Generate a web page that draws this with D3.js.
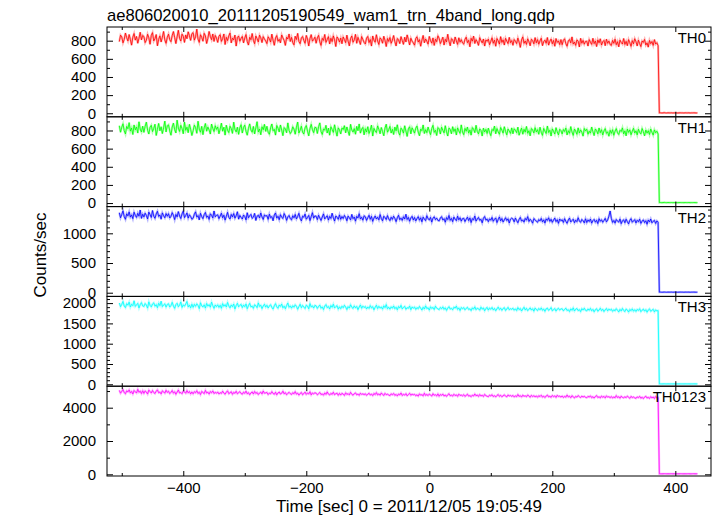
<!DOCTYPE html>
<html><head><meta charset="utf-8">
<script src="https://cdn.jsdelivr.net/npm/d3@7"></script>
<style>body{margin:0;background:#fff} text{font-family:"Liberation Sans",Arial,Helvetica,sans-serif}</style>
</head><body><svg id="c" width="717" height="516"></svg>
<script>
const titleText = "ae806020010_20111205190549_wam1_trn_4band_long.qdp";
const xLabelText = "Time [sec] 0 = 2011/12/05 19:05:49";
const yLabelText = "Counts/sec";
const bandNames = ["TH0", "TH1", "TH2", "TH3", "TH0123"];
const bandColors = ["#ff0000", "#00ff00", "#0000ff", "#00ffff", "#ff00ff"];
const xTicks = [-400, -200, 0, 200, 400];
const xMinorTicks = [-500, -300, -100, 100, 300];
const yTicks = [[0, 200, 400, 600, 800], [0, 200, 400, 600, 800], [0, 500, 1000], [0, 500, 1000, 1500, 2000], [0, 2000, 4000]];
const yMinorStep = [100, 100, 100, 100, 1000];
// 2-second bins, t = -504 ... 436
const times = d3.range(-504, 438, 2);

const th0 = [
790,861,842,776,815,884,833,797,868,812,751,839,879,806,847,772,826,893,809,858,
845,779,806,871,832,761,858,889,797,823,868,744,815,853,786,839,902,808,771,836,
872,811,789,856,901,834,768,843,915,826,797,872,849,781,864,822,898,855,803,877,
889,806,842,928,818,781,866,837,794,881,853,769,825,902,847,811,874,792,858,829,
781,849,866,792,823,874,758,837,801,853,884,776,828,809,862,741,835,851,794,826,
847,776,829,868,791,752,838,811,879,804,767,852,823,786,861,832,779,845,818,797,
768,843,821,785,872,806,749,829,857,794,815,776,863,831,802,748,838,819,874,791,
836,779,754,849,813,881,792,767,829,846,803,771,858,818,742,824,867,795,813,839,
772,831,859,787,748,826,803,869,781,812,845,764,827,790,853,809,736,841,822,785,
829,767,841,812,778,861,795,743,824,852,783,809,870,771,837,799,758,846,813,781,
764,828,847,779,813,741,852,806,783,866,797,758,831,815,772,849,803,736,824,792,
835,771,806,857,789,742,823,811,768,845,802,759,838,786,864,812,753,827,795,776,
751,824,843,785,812,739,806,858,777,819,794,762,847,801,773,831,748,816,789,854,
826,768,801,839,752,815,786,871,795,744,823,809,767,841,797,759,832,784,812,775,
762,815,839,778,804,733,826,795,851,769,812,787,748,834,801,776,819,741,808,793,
817,756,793,832,771,806,739,824,798,762,845,781,809,752,826,795,768,837,779,801,
749,813,794,768,829,785,726,808,842,771,797,759,821,788,744,816,802,765,834,777,
812,761,798,827,745,789,806,772,835,751,794,818,766,803,739,824,781,798,757,812,
756,804,821,768,739,797,813,776,842,763,785,748,809,794,731,826,772,803,761,792,
794,741,812,783,759,826,768,797,735,809,776,821,752,788,803,745,817,771,796,758,
748,803,771,817,756,789,732,806,781,763,824,759,793,745,812,777,738,801,766,822,
789,742,806,768,735,797,781,814,752,776,729,803,767,791,748,812,763,778,745,
4,5,3,4,6,4,3,5,4,4,5,3,4,5,4,3,4,5,4,4,3,5,4,4,5,3,4,4,5,4,3,4];

const th1 = [
853,781,836,874,798,762,845,819,887,793,828,756,861,807,839,772,896,815,784,848,
779,846,892,803,761,834,857,788,823,869,745,812,878,797,841,766,829,903,784,851,
862,795,748,838,881,809,773,914,826,789,857,821,764,893,802,837,776,868,813,745,
797,858,833,769,902,815,781,846,754,829,877,792,838,806,761,871,824,788,853,812,
839,764,817,881,792,836,749,858,803,777,847,821,768,892,811,784,836,757,829,864,
772,834,859,791,748,823,873,806,781,845,762,829,897,784,817,753,841,808,868,790,
846,781,758,829,872,797,813,749,855,826,784,861,805,743,832,818,775,884,801,766,
788,841,816,759,836,893,772,804,847,781,762,829,855,793,741,822,868,809,776,835,
831,767,842,884,789,756,818,803,857,772,826,748,841,812,779,863,795,738,829,806,
762,827,811,853,774,839,791,745,868,806,783,821,759,846,798,872,771,815,834,752,
819,783,842,767,806,859,739,824,795,777,851,812,764,833,788,742,827,869,781,808,
845,772,813,756,838,796,863,781,749,826,807,771,852,794,735,818,841,763,829,802,
771,826,849,783,742,815,798,861,767,809,776,838,792,754,821,857,779,803,745,832,
818,761,836,802,774,853,786,739,827,811,764,842,789,818,751,829,796,768,862,783,
754,823,792,838,771,806,749,832,815,776,857,789,763,818,801,739,826,784,812,767,
826,778,743,812,797,849,764,821,786,758,833,804,771,842,789,752,816,795,768,829,
764,819,802,776,837,748,791,826,759,813,782,845,769,798,741,822,806,773,831,784,
809,758,836,781,746,823,794,767,849,778,803,739,818,792,761,831,785,752,814,799,
762,811,789,827,751,798,769,843,784,746,816,793,758,829,772,807,781,738,822,796,
814,759,792,771,838,787,744,816,799,763,828,776,809,751,795,821,768,786,737,803,
768,809,747,792,821,774,756,803,788,829,762,796,741,815,779,807,753,791,824,772,
796,752,814,779,763,822,787,741,805,771,798,756,816,781,749,807,775,792,761,
5,6,4,5,7,5,4,6,5,5,6,4,5,6,5,4,5,6,5,5,4,6,5,5,6,4,5,5,6,5,4,5];

const th2 = [
1348,1262,1317,1379,1281,1236,1329,1294,1361,1273,1310,1247,1356,1302,1268,1337,1289,1392,1251,1321,
1276,1339,1301,1242,1358,1315,1267,1384,1290,1253,1326,1371,1284,1309,1238,1345,1297,1262,1333,1288,
1331,1258,1286,1349,1303,1231,1318,1277,1366,1292,1249,1327,1374,1265,1301,1343,1256,1312,1284,1237,
1254,1321,1362,1273,1299,1226,1337,1281,1246,1315,1352,1268,1293,1234,1329,1306,1259,1376,1278,1302,
1312,1247,1291,1339,1262,1305,1223,1286,1354,1270,1241,1318,1277,1333,1255,1296,1364,1238,1301,1269,
1241,1308,1284,1226,1347,1263,1295,1319,1252,1271,1336,1217,1288,1305,1259,1342,1276,1233,1311,1289,
1299,1235,1322,1264,1281,1211,1308,1343,1256,1287,1229,1314,1270,1251,1333,1292,1218,1276,1301,1247,
1227,1296,1262,1318,1243,1284,1337,1251,1209,1289,1272,1325,1238,1266,1302,1214,1281,1348,1255,1293,
1288,1231,1304,1259,1216,1275,1327,1242,1269,1296,1223,1284,1251,1339,1262,1207,1292,1271,1236,1311,
1236,1283,1249,1301,1268,1212,1290,1262,1227,1319,1247,1274,1205,1286,1259,1331,1243,1270,1221,1295,
1279,1218,1263,1304,1236,1285,1201,1257,1292,1241,1270,1227,1316,1249,1211,1288,1265,1232,1299,1244,
1214,1271,1235,1288,1252,1197,1263,1304,1229,1256,1218,1279,1241,1321,1233,1268,1203,1259,1286,1226,
1267,1209,1248,1281,1221,1262,1194,1273,1238,1214,1297,1245,1226,1268,1189,1254,1279,1231,1256,1217,
1209,1258,1281,1224,1246,1187,1265,1232,1301,1219,1251,1196,1274,1238,1213,1289,1227,1262,1205,1248,
1253,1198,1237,1272,1214,1259,1182,1246,1228,1291,1206,1241,1267,1219,1236,1177,1254,1283,1222,1240,
1196,1244,1221,1268,1203,1237,1259,1181,1232,1276,1210,1249,1191,1227,1263,1215,1244,1174,1238,1256,
1241,1193,1257,1216,1178,1234,1268,1205,1226,1189,1251,1222,1282,1199,1237,1212,1171,1248,1229,1203,
1186,1232,1209,1251,1194,1227,1173,1243,1218,1262,1201,1236,1185,1224,1256,1197,1229,1168,1241,1212,
1228,1183,1247,1202,1168,1224,1257,1191,1215,1238,1179,1221,1196,1263,1207,1185,1234,1211,1176,1245,
1182,1226,1199,1241,1171,1213,1235,1188,1219,1164,1246,1203,1229,1186,1217,1252,1193,1224,1289,1376,
1251,1184,1216,1172,1233,1205,1189,1242,1163,1211,1227,1178,1238,1196,1159,1219,1247,1187,1208,1231,
1174,1219,1196,1238,1168,1205,1227,1181,1212,1153,1224,1192,1241,1177,1203,1218,1166,1209,1186,
9,10,8,9,11,9,8,10,9,9,10,8,9,10,9,8,9,10,9,9,8,10,9,9,10,8,9,9,10,9,8,9];

const th3 = [
2003,1912,1968,2041,1927,1889,1986,1949,2024,1903,1971,1936,2058,1918,1957,1994,1879,1962,2012,1931,
1917,1989,1952,1876,2031,1943,1908,1978,2006,1925,1961,1887,1996,1938,2047,1914,1955,1982,1901,1967,
1985,1903,1939,2019,1928,1871,1964,1996,1911,1947,2028,1893,1958,1923,1977,2041,1906,1949,1884,1972,
1896,1968,1921,1983,1942,1864,2009,1932,1905,1957,1877,1991,1926,1962,1899,2024,1938,1871,1953,1914,
1958,1894,1946,1872,1987,1923,1961,1905,2016,1931,1883,1954,1912,1977,1856,1939,1996,1908,1944,1968,
1889,1951,1913,1978,1862,1937,1994,1906,1925,1871,1959,1934,1887,2005,1918,1946,1865,1929,1971,1901,
1947,1879,1928,1961,1895,1853,1934,1987,1908,1872,1953,1919,1976,1884,1925,1862,1941,2001,1897,1931,
1876,1935,1899,1958,1921,1848,1913,1972,1886,1941,1903,1867,1949,1927,1859,1988,1905,1931,1878,1944,
1931,1869,1918,1951,1874,1906,1842,1927,1963,1889,1915,1856,1939,1898,1972,1881,1912,1937,1851,1908,
1864,1923,1887,1945,1905,1841,1912,1878,1959,1897,1869,1931,1884,1917,1838,1903,1954,1872,1925,1891,
1916,1857,1903,1869,1938,1882,1911,1834,1896,1947,1866,1921,1877,1904,1851,1932,1889,1963,1862,1898,
1851,1908,1874,1929,1862,1897,1836,1915,1881,1944,1858,1893,1919,1846,1887,1871,1926,1838,1903,1876,
1902,1845,1889,1862,1918,1873,1829,1897,1854,1931,1866,1884,1827,1909,1868,1893,1841,1922,1875,1857,
1839,1891,1862,1907,1848,1883,1821,1875,1912,1853,1869,1836,1898,1877,1924,1845,1881,1817,1889,1864,
1887,1834,1871,1896,1842,1859,1815,1882,1851,1908,1838,1874,1861,1825,1899,1853,1879,1811,1867,1893,
1828,1879,1849,1892,1834,1867,1812,1858,1901,1841,1873,1823,1866,1888,1819,1854,1896,1837,1862,1846,
1873,1826,1858,1817,1889,1841,1866,1805,1853,1897,1832,1869,1814,1848,1882,1829,1861,1801,1876,1843,
1818,1867,1835,1881,1824,1852,1798,1859,1876,1821,1847,1889,1812,1838,1865,1804,1851,1872,1829,1856,
1861,1811,1844,1875,1819,1836,1793,1857,1824,1883,1806,1848,1867,1815,1839,1791,1862,1831,1873,1822,
1807,1856,1823,1869,1812,1844,1786,1838,1861,1799,1828,1874,1815,1847,1792,1835,1866,1809,1851,1826,
1849,1798,1836,1811,1862,1824,1783,1845,1806,1868,1819,1792,1854,1831,1779,1843,1813,1858,1801,1837,
1795,1843,1818,1861,1789,1826,1852,1803,1837,1776,1829,1857,1798,1822,1848,1784,1833,1809,1815,
10,11,9,10,12,10,9,11,10,10,11,9,10,11,10,9,10,11,10,10,9,11,10,10,11,9,10,10,11,10,9,10];

const th0123 = [
5043,4871,4982,5089,4907,4836,5012,4948,5067,4889,4974,4823,5031,4956,4881,5102,4929,4993,4852,5018,
4862,5007,4943,4819,5058,4967,4884,5032,4911,4853,4989,5071,4896,4938,4827,5014,4952,4873,5046,4921,
4987,4848,4926,5035,4871,4958,4803,4939,5062,4885,4914,4839,5001,4952,4867,5029,4893,4971,4826,4944,
4833,4962,4897,5021,4858,4929,4791,4976,4912,4846,5043,4881,4934,4817,4968,4899,5009,4852,4923,4868,
4945,4824,4903,4858,4992,4876,4811,4931,5012,4842,4897,4959,4803,4918,4867,4986,4839,4904,4961,4851,
4812,4931,4864,4995,4838,4902,4779,4886,4947,4823,4973,4856,4913,4792,4879,4938,4826,5004,4869,4891,
4917,4791,4876,4832,4963,4854,4808,4929,4773,4885,4941,4819,4867,4992,4836,4903,4781,4858,4926,4843,
4794,4901,4839,4968,4815,4872,4757,4853,4912,4781,4847,4936,4803,4879,4826,4958,4769,4884,4831,4897,
4872,4776,4843,4911,4794,4829,4751,4886,4802,4948,4817,4763,4858,4801,4927,4784,4839,4872,4745,4856,
4761,4864,4812,4738,4893,4797,4844,4769,4921,4806,4752,4837,4889,4776,4819,4742,4871,4798,4834,4783,
4836,4742,4807,4869,4761,4815,4729,4852,4788,4903,4770,4826,4751,4884,4797,4738,4859,4779,4812,4764,
4723,4829,4778,4851,4741,4796,4709,4817,4768,4882,4736,4801,4755,4843,4714,4789,4862,4748,4812,4771,
4806,4719,4774,4692,4833,4751,4786,4712,4864,4738,4795,4727,4818,4763,4698,4841,4745,4779,4706,4827,
4691,4789,4742,4818,4703,4761,4679,4774,4836,4718,4752,4697,4803,4728,4771,4684,4812,4737,4758,4709,
4778,4682,4739,4807,4694,4729,4663,4752,4701,4824,4716,4761,4677,4789,4708,4743,4671,4796,4725,4688,
4662,4756,4708,4779,4671,4725,4646,4733,4789,4684,4741,4659,4717,4772,4692,4651,4764,4703,4736,4677,
4737,4648,4706,4663,4791,4679,4722,4639,4753,4687,4711,4656,4768,4694,4631,4742,4670,4719,4652,4706,
4628,4719,4671,4746,4638,4692,4614,4703,4757,4649,4688,4625,4734,4662,4711,4619,4742,4676,4697,4641,
4703,4617,4676,4634,4762,4648,4691,4604,4718,4653,4587,4679,4635,4727,4658,4609,4695,4641,4683,4622,
4596,4681,4638,4712,4607,4659,4581,4672,4727,4615,4654,4593,4698,4628,4676,4589,4706,4643,4663,4601,
4672,4584,4641,4599,4726,4612,4659,4571,4688,4620,4593,4655,4604,4694,4627,4565,4679,4608,4646,4589,
4561,4648,4605,4679,4572,4626,4547,4637,4691,4583,4619,4556,4662,4594,4641,4553,4671,4598,4612,
32,34,30,32,35,33,31,34,32,33,34,30,32,34,33,31,32,34,33,32,31,34,32,33,34,30,32,33,34,32,31,33];

const series = [th0, th1, th2, th3, th0123];
const yDomains = [[-39, 951], [-39, 951], [-62, 1450], [-47, 2165], [-101, 5291]];

// layout
const L = 107, R = 711, T = 27, B = 476;
const nP = series.length, pH = (B - T) / nP;
const svg = d3.select("#c");
const x = d3.scaleLinear().domain([-524, 458]).range([L, R]);
const FONT = '"Liberation Sans",Arial,sans-serif';

series.forEach((vals, i) => {
  const y0 = T + i * pH, y1 = y0 + pH;
  const y = d3.scaleLinear().domain(yDomains[i]).range([y1, y0]);
  const g = svg.append("g");
  const pts = vals.map((v, k) => [times[k], v]).filter(d => d[0] !== undefined);
  const line = d3.line().x(d => x(d[0])).y(d => y(d[1]));
  g.append("path").datum(pts).attr("d", line).attr("fill", "none")
    .attr("stroke", bandColors[i]).attr("stroke-width", 2.2).attr("stroke-opacity", 0.3);
  g.append("path").datum(pts).attr("d", line).attr("fill", "none")
    .attr("stroke", bandColors[i]).attr("stroke-width", 0.8);

  const minor = d3.range(0, yDomains[i][1], yMinorStep[i]).filter(v => !yTicks[i].includes(v));
  const style = a => { a.selectAll("path.domain").remove(); a.selectAll("line").attr("stroke", "#000"); a.selectAll("text").attr("font-size", 15).attr("fill", "#000").attr("font-family", FONT); };
  // left
  svg.append("g").attr("transform", `translate(${L},0)`)
    .call(d3.axisLeft(y).tickValues(yTicks[i]).tickSize(-6).tickPadding(11).tickFormat(d3.format("d"))).call(style);
  svg.append("g").attr("transform", `translate(${L},0)`)
    .call(d3.axisLeft(y).tickValues(minor).tickSize(-3).tickFormat("")).call(style);
  // right
  svg.append("g").attr("transform", `translate(${R},0)`)
    .call(d3.axisRight(y).tickValues(yTicks[i]).tickSize(-6).tickFormat("")).call(style);
  svg.append("g").attr("transform", `translate(${R},0)`)
    .call(d3.axisRight(y).tickValues(minor).tickSize(-3).tickFormat("")).call(style);
  // top & bottom x ticks
  svg.append("g").attr("transform", `translate(0,${y0})`)
    .call(d3.axisTop(x).tickValues(xTicks).tickSize(-5).tickFormat("")).call(style);
  svg.append("g").attr("transform", `translate(0,${y0})`)
    .call(d3.axisTop(x).tickValues(xMinorTicks).tickSize(-3).tickFormat("")).call(style);
  const last = i === nP - 1;
  svg.append("g").attr("transform", `translate(0,${y1})`)
    .call(d3.axisBottom(x).tickValues(xTicks).tickSize(-5).tickPadding(6)
      .tickFormat(last ? (d => d3.format("d")(d).replace("-", "\u2212")) : "")).call(style);
  svg.append("g").attr("transform", `translate(0,${y1})`)
    .call(d3.axisBottom(x).tickValues(xMinorTicks).tickSize(-3).tickFormat("")).call(style);
  // frame
  svg.append("rect").attr("x", L).attr("y", y0).attr("width", R - L).attr("height", pH)
    .attr("fill", "none").attr("stroke", "#000").attr("stroke-width", 1);
  // panel label
  svg.append("text").attr("x", 706).attr("y", y0 + 16).attr("text-anchor", "end")
    .attr("font-size", 15).text(bandNames[i]);
});

svg.append("text").attr("x", L).attr("y", 21).attr("font-size", 16.6).text(titleText);
svg.append("text").attr("x", (L + R) / 2).attr("y", 512).attr("text-anchor", "middle")
  .attr("font-size", 17).text(xLabelText);
svg.append("text").attr("transform", `translate(46,255) rotate(-90)`)
  .attr("text-anchor", "middle").attr("font-size", 17).text(yLabelText);
</script></body></html>
